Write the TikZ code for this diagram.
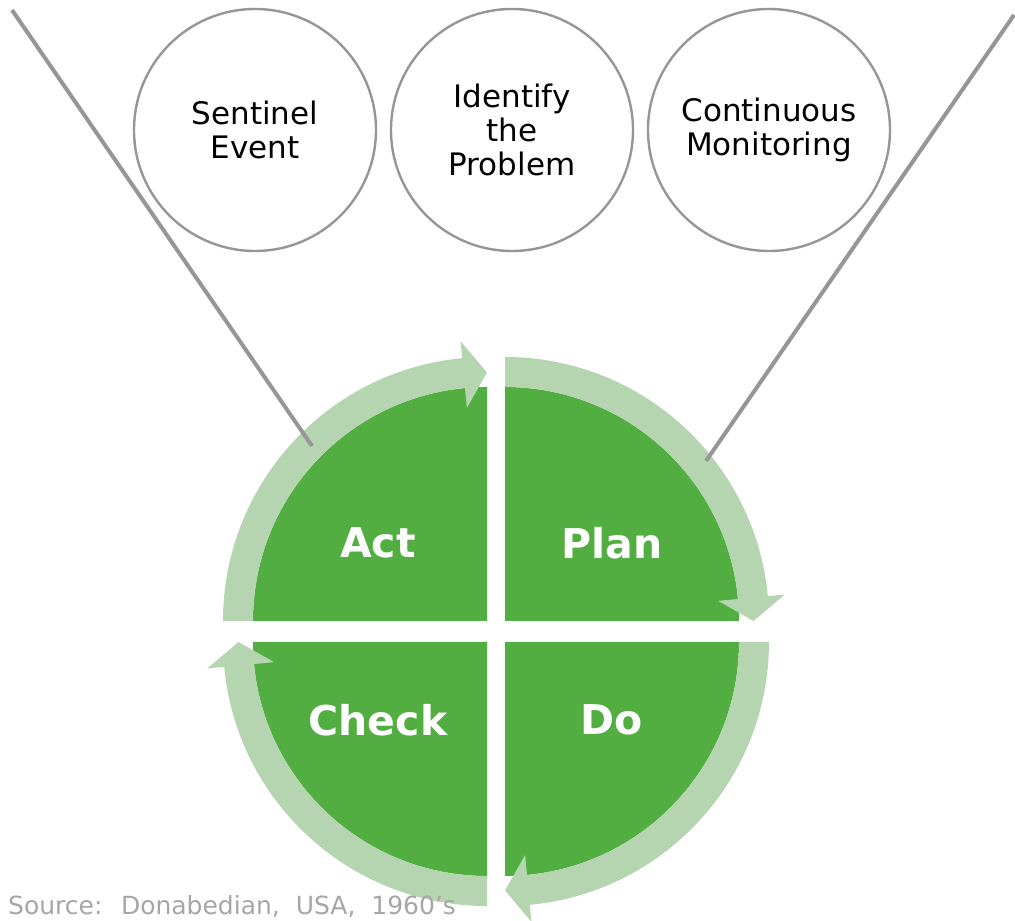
\documentclass[tikz,border=0pt]{standalone}
\usepackage{fontspec}
\setmainfont{DejaVu Sans}

\definecolor{pdcadark}{RGB}{82,174,64}
\definecolor{pdcalight}{RGB}{181,213,176}
\definecolor{linegray}{RGB}{150,150,150}
\definecolor{sourcegray}{RGB}{166,166,166}

\begin{document}
\begin{tikzpicture}[x=1pt,y=1pt,
	stage/.style={circle,draw=linegray,line width=2.4pt,fill=white,minimum size=242pt,inner sep=0pt,align=center,font=\fontsize{31}{34}\selectfont},
	quarter/.style={text=white,font=\fontsize{41}{41}\selectfont\bfseries},
	pointer/.style={draw=linegray,line width=4pt}]

	\useasboundingbox (0,0) rectangle (1015,921);

	% the four quarters of the cycle
	\foreach \cx/\cy/\s [evaluate=\s as \e using \s-90, evaluate=\s as \b using \s-84.6] in {505/300/90, 505/279/0, 487/279/-90, 487/300/180}{
	\begin{scope}[shift={(\cx,\cy)}]
	\fill[pdcadark] (0,0) -- (\s:234) arc[start angle=\s, end angle=\e, radius=234] -- cycle;
	\fill[pdcalight] (\s:234) arc[start angle=\s, end angle=\b, radius=234] -- (\b:214) -- (\e:248.5) -- (\b:281) -- (\b:264) arc[start angle=\b, end angle=\s, radius=264] -- cycle;
	\end{scope}
	}

	\node[quarter] (act) at (378,378) {Act};
	\node[quarter] (plan) at (612,378) {Plan};
	\node[quarter] (check) at (378,201) {Check};
	\node[quarter] (do) at (612,201) {Do};

	\coordinate (lefttop) at (12,911);
	\coordinate (leftend) at (312,475);
	\coordinate (righttop) at (1014,906);
	\coordinate (rightend) at (706,460);
	\draw[pointer] (lefttop) -- (leftend);
	\draw[pointer] (righttop) -- (rightend);

	\node[stage] (sentinel) at (255,791) {Sentinel\\Event};
	\node[stage] (identify) at (512,791) {Identify\\the\\Problem};
	\node[stage] (monitor) at (769,791) {Continuous\\Monitoring};

	\node[anchor=base west,text=sourcegray,font=\fontsize{25}{25}\selectfont,inner sep=0pt] (source) at (8,6) {Source:~ Donabedian,~ USA,~ 1960's};

\end{tikzpicture}
\end{document}
